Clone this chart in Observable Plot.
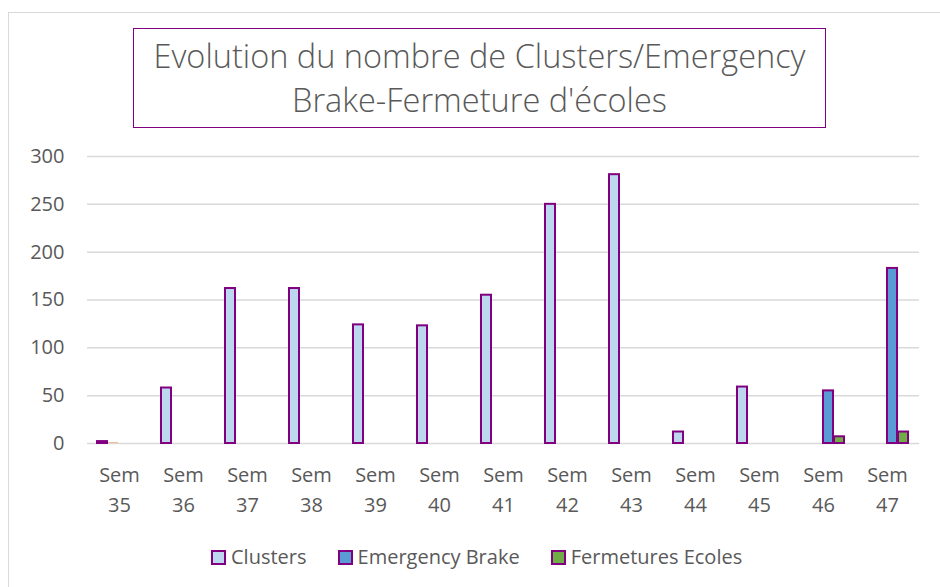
<!DOCTYPE html>
<html>
<head>
<meta charset="utf-8">
<script src="https://cdn.jsdelivr.net/npm/d3@7"></script>
<script src="https://cdn.jsdelivr.net/npm/@observablehq/plot@0.6"></script>
<style>
  html, body { margin: 0; padding: 0; background: #fff; }
  #wrap { position: relative; width: 940px; height: 587px; overflow: hidden; background: #fff; font-family: "Open Sans", sans-serif; color: #595959; }
  #frame { position: absolute; left: 8px; top: 12px; width: 940px; height: 600px; border-top: 1.5px solid #d9d9d9; border-left: 1.5px solid #d9d9d9; }
  #title { position: absolute; left: 133px; top: 28px; width: 693px; height: 100px; box-sizing: border-box; border: 1.5px solid #800080; display: flex; flex-direction: column; justify-content: center; align-items: center; font-size: 32.5px; font-weight: 300; line-height: 44px; text-align: center; white-space: nowrap; }
  #chart { position: absolute; left: 0; top: 130px; }
  #legend { position: absolute; left: 211px; top: 543px; display: flex; align-items: center; font-size: 20px; line-height: 28px; white-space: nowrap; }
  .item { display: flex; align-items: center; margin-right: 31px; }
  .sw { width: 11px; height: 11px; border: 2px solid #800080; margin-right: 5px; }
</style>
</head>
<body>
<div id="wrap">
  <div id="frame"></div>
  <div id="title"><div>Evolution du nombre de Clusters/Emergency</div><div>Brake-Fermeture d'écoles</div></div>
  <div id="chart"></div>
  <div id="legend"></div>
</div>
<script>
// Data
const weeks = ["Sem 35","Sem 36","Sem 37","Sem 38","Sem 39","Sem 40","Sem 41","Sem 42","Sem 43","Sem 44","Sem 45","Sem 46","Sem 47"];
const clusters =        [2, 58, 162, 162, 124, 123, 155, 250, 281, 12, 59, 0, 0];
const unlabeled =       [0.5, 0, 0, 0, 0, 0, 0, 0, 0, 0, 0, 0, 0];
const emergencyBrake =  [0, 0, 0, 0, 0, 0, 0, 0, 0, 0, 0, 55, 183];
const fermetures =      [0, 0, 0, 0, 0, 0, 0, 0, 0, 0, 0, 7, 12];
const seriesNames = ["Clusters", "Série 2", "Emergency Brake", "Fermetures Ecoles"];
const seriesColors = ["#bdd7ee", "#ed7d31", "#5b9bd5", "#70ad47"];
const legendNames = ["Clusters", "Emergency Brake", "Fermetures Ecoles"];
const yTicks = [0, 50, 100, 150, 200, 250, 300];

const seriesValues = [clusters, unlabeled, emergencyBrake, fermetures];
const rows = [];
weeks.forEach((w, i) => {
  seriesNames.forEach((s, j) => {
    const v = seriesValues[j][i];
    if (v > 0) rows.push({week: w, series: s, value: v});
  });
});
const outlined = rows.filter(d => d.series !== "Série 2");
const plain = rows.filter(d => d.series === "Série 2");

const purple = "#800080";

const chart = Plot.plot({
  width: 940,
  height: 390,
  marginLeft: 84,
  marginRight: 19,
  marginTop: 26,
  marginBottom: 77,
  style: {fontFamily: "Open Sans, sans-serif", fontSize: "20px", color: "#595959", background: "transparent", overflow: "visible"},
  fx: {domain: weeks, padding: 0, label: null},
  x: {domain: seriesNames, paddingInner: 0.05, paddingOuter: 0.875, axis: null},
  y: {domain: [0, 300], label: null},
  color: {domain: seriesNames, range: seriesColors},
  marks: [
    Plot.gridY(yTicks, {stroke: "#d9d9d9", strokeOpacity: 1, strokeWidth: 1.5}),
    Plot.axisY(yTicks, {tickSize: 0, tickPadding: 23, fontSize: 20, label: null}),
    Plot.axisFx({anchor: "bottom", tickSize: 0, tickPadding: 17, lineHeight: 1.5, fontSize: 20, label: null, tickFormat: d => d.replace(" ", "\n")}),
    Plot.barY(plain, {fx: "week", x: "series", y: "value", fill: "series"}),
    Plot.barY(outlined, {fx: "week", x: "series", y: "value", fill: "series", stroke: purple, strokeWidth: 2})
  ]
});
document.getElementById("chart").appendChild(chart);

const legend = document.getElementById("legend");
legendNames.forEach(n => {
  const it = document.createElement("div");
  it.className = "item";
  const sw = document.createElement("div");
  sw.className = "sw";
  sw.style.background = seriesColors[seriesNames.indexOf(n)];
  const t = document.createElement("span");
  t.textContent = n;
  it.appendChild(sw); it.appendChild(t);
  legend.appendChild(it);
});
</script>
</body>
</html>
